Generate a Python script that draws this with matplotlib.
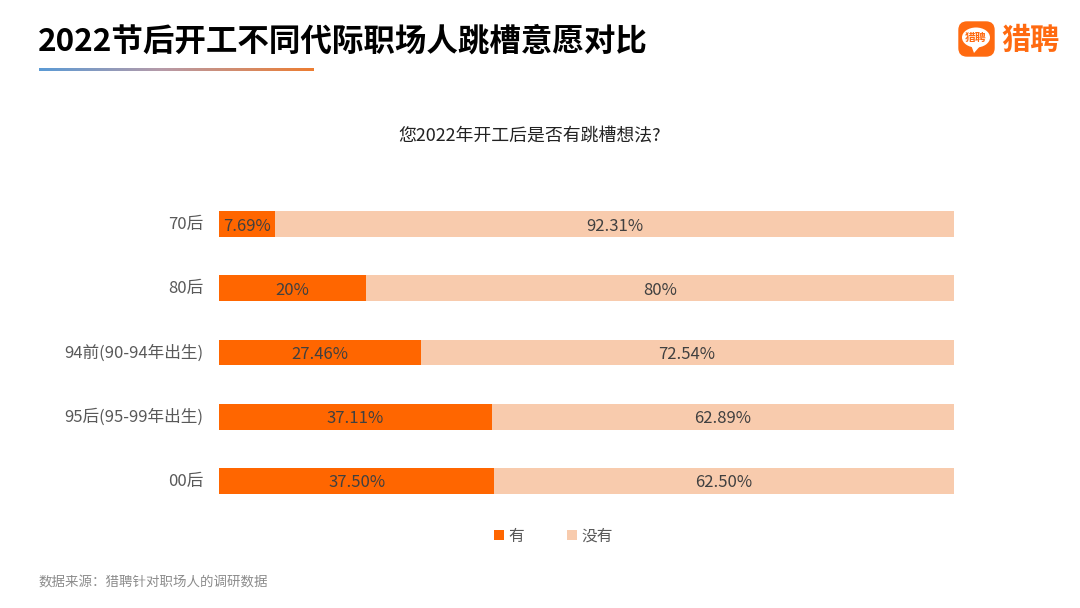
import matplotlib.pyplot as plt
from matplotlib.patches import FancyBboxPatch, Polygon, Ellipse
from matplotlib.transforms import ScaledTranslation
import numpy as np

plt.rcParams['font.family'] = ['Noto Sans CJK SC', 'DejaVu Sans']

categories = ['70后', '80后', '94前(90-94年出生)', '95后(95-99年出生)', '00后']
yes_values = [7.69, 20, 27.46, 37.11, 37.50]
no_values = [92.31, 80, 72.54, 62.89, 62.50]
yes_labels = ['7.69%', '20%', '27.46%', '37.11%', '37.50%']
no_labels = ['92.31%', '80%', '72.54%', '62.89%', '62.50%']

orange = '#ff6600'
light = '#f8cbad'
W, H = 1080, 608

fig = plt.figure(figsize=(W / 100, H / 100), dpi=100)

# overlay axes in pixel coordinates for title, logo etc
bg = fig.add_axes([0, 0, 1, 1])
bg.set_xlim(0, W)
bg.set_ylim(H, 0)
bg.axis('off')

bg.text(38, 41.5, '2022节后开工不同代际职场人跳槽意愿对比', fontsize=22.7, fontweight='bold',
        color='#000000', va='center', ha='left')
# underline gradient, blue -> mauve -> orange
stops = np.array([[0x5b, 0x9b, 0xd5], [0xb7, 0x9a, 0xa8], [0xed, 0x7d, 0x31]]) / 255
grad = np.linspace(0, 1, 256)
img = np.array([[np.interp(grad, [0, 0.45, 1], stops[:, k]) for k in range(3)]]).transpose(0, 2, 1)
bg.imshow(img, extent=(39, 314, 71, 68.5), aspect='auto')
bg.set_xlim(0, W)
bg.set_ylim(H, 0)

bg.text(530, 136, '您2022年开工后是否有跳槽想法?', fontsize=12.9, color='#222222', ha='center', va='center')

# logo
bg.add_patch(FancyBboxPatch((959, 22), 35, 34, boxstyle='round,pad=0,rounding_size=8',
                            fc='#ff6a10', ec='#ff6a10', lw=1))
bg.add_patch(Ellipse((976, 37.5), 28, 20, fc='white', ec='none'))
bg.add_patch(Polygon([[971, 45], [981, 45], [974, 53]], fc='white', ec='none'))
bg.text(976, 37.5, '猎聘', fontsize=7.8, fontweight='bold', color='#ff6a10', ha='center', va='center')
bg.text(1030, 39.5, '猎聘', fontsize=21, fontweight='bold', color='#ff6a10', ha='center', va='center')

bg.text(38.5, 582, '数据来源\uff1a猎聘针对职场人的调研数据', fontsize=9.7, color='#8c8c8c', ha='left', va='center')

# bar chart
ax = fig.add_axes([219 / W, 1 - 513 / H, (953.5 - 219) / W, (513 - 192) / H])
ax.patch.set_alpha(0)
y = np.arange(len(categories))
ax.barh(y, yes_values, height=0.4, color=orange, label='有')
ax.barh(y, no_values, left=yes_values, height=0.4, color=light, label='没有')
ax.set_xlim(0, 100)
ax.set_ylim(len(categories) - 0.5, -0.5)
ax.set_yticks(y)
ax.set_yticklabels(categories, fontsize=12, color='#595959')
ax.tick_params(axis='y', length=0, pad=11)
ax.xaxis.set_visible(False)
for s in ax.spines.values():
    s.set_visible(False)

# tick labels sit a little above the bar centre
up = ScaledTranslation(0, 1.5 / 100, fig.dpi_scale_trans)
for lab in ax.get_yticklabels():
    lab.set_transform(lab.get_transform() + up)

for i in y:
    ax.text(yes_values[i] / 2, i + 0.03, yes_labels[i], fontsize=12, color='#404040', ha='center', va='center')
    ax.text(yes_values[i] + no_values[i] / 2, i + 0.03, no_labels[i], fontsize=12, color='#404040', ha='center', va='center')

leg = ax.legend(loc='center', bbox_to_anchor=(553.5 / W, 1 - 536 / H), bbox_transform=fig.transFigure, ncol=2,
                frameon=False, fontsize=11.3, handlelength=0.64, handleheight=0.64, handletextpad=0.3,
                columnspacing=2.7, labelcolor='#595959')

fig.savefig('out.png', dpi=100)
